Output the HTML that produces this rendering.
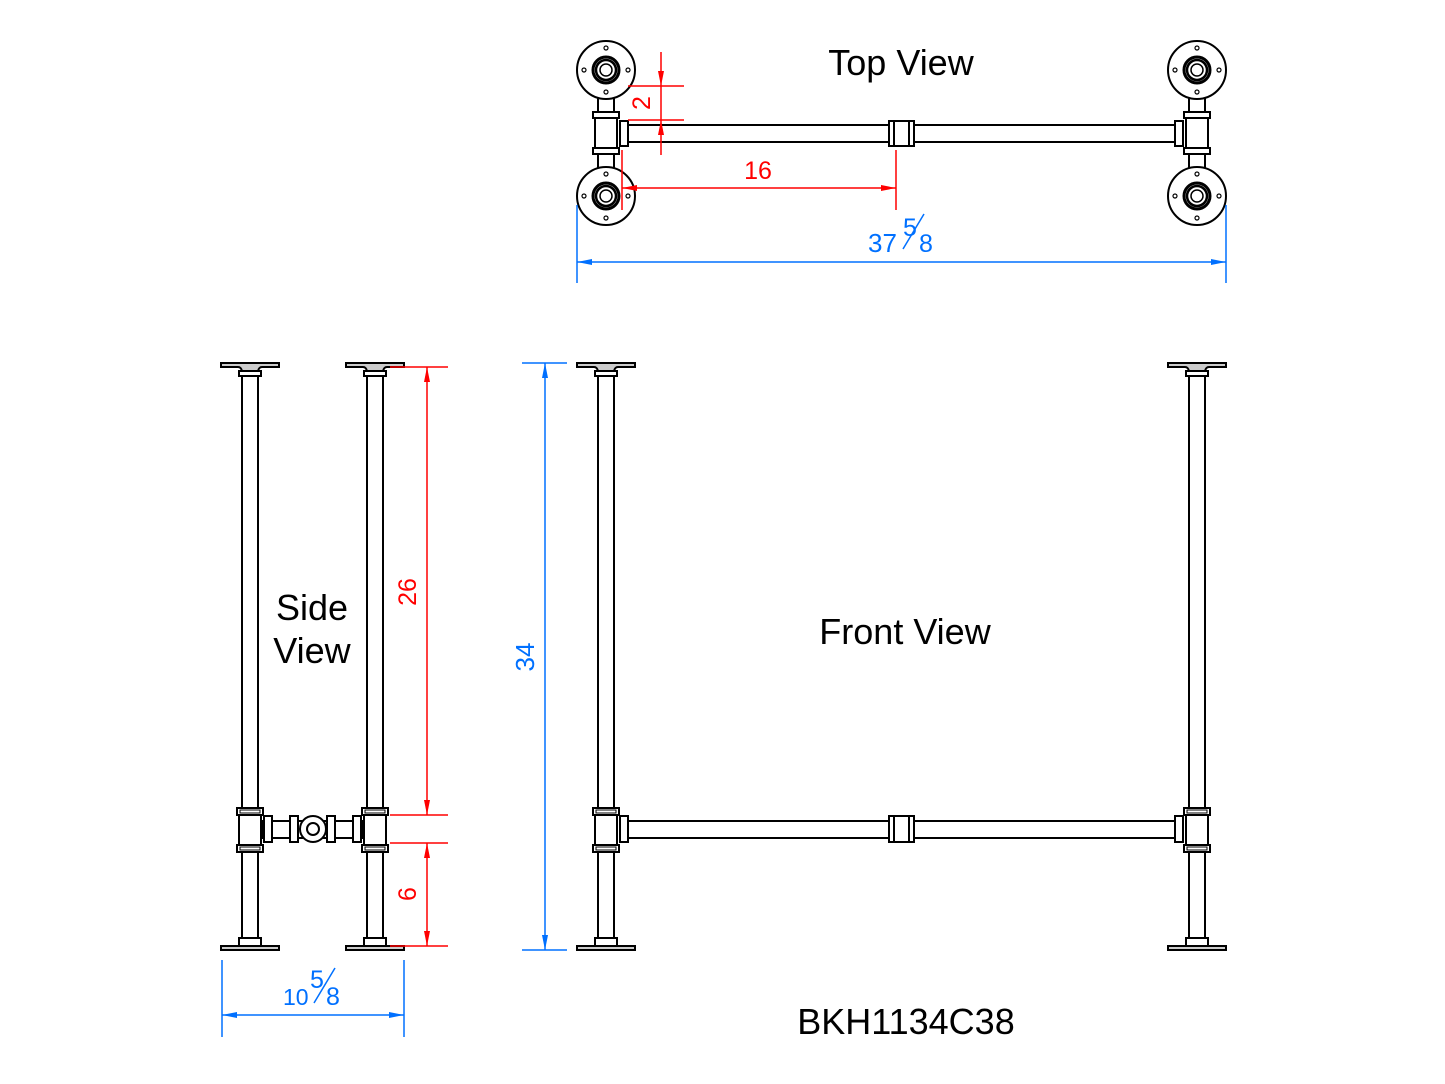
<!DOCTYPE html>
<html><head><meta charset="utf-8"><style>
html,body{margin:0;padding:0;background:#fff;}
svg{display:block;}
text{font-family:"Liberation Sans",sans-serif;}
</style></head><body>
<svg width="1445" height="1084" viewBox="0 0 1445 1084" xmlns="http://www.w3.org/2000/svg">
<defs>
<g id="leg" stroke="#000" stroke-width="2" fill="#fff">
  <path d="M-29,363 H29 V367 H12 Q9,367 8,371 H-8 Q-9,367 -12,367 H-29 Z" fill="#ccc"/>
  <rect x="-8" y="371" width="16" height="437"/>
  <rect x="-11" y="371" width="22" height="5"/>
  <rect x="-11" y="815" width="22" height="30"/>
  <rect x="-13" y="808" width="26" height="7"/>
  <rect x="-10" y="810" width="20" height="3" fill="none" stroke-width="1"/>
  <rect x="-13" y="845" width="26" height="7"/>
  <rect x="-10" y="847" width="20" height="3" fill="none" stroke-width="1"/>
  <rect x="-8" y="852" width="16" height="88"/>
  <path d="M-29,950 H29 V946 H12 Q9,946 8,940 H-8 Q-9,946 -12,946 H-29 Z" fill="#ccc"/>
  <rect x="-11" y="938" width="22" height="8"/>
</g>
<g id="flange" stroke="#000" fill="#fff">
  <circle r="29" stroke-width="2"/>
  <circle r="13" stroke-width="3"/>
  <circle r="10" stroke-width="2.5"/>
  <circle r="6" stroke-width="1.5"/>
  <circle cx="0" cy="-22" r="2" stroke-width="1.2"/>
  <circle cx="0" cy="22" r="2" stroke-width="1.2"/>
  <circle cx="-22" cy="0" r="2" stroke-width="1.2"/>
  <circle cx="22" cy="0" r="2" stroke-width="1.2"/>
</g>
<g id="topleg" stroke="#000" stroke-width="2" fill="#fff">
  <rect x="-8" y="86" width="16" height="94"/>
  <rect x="-11" y="112" width="22" height="42"/>
  <rect x="-13" y="112" width="26" height="6"/>
  <rect x="-13" y="148" width="26" height="6"/>
  <rect x="-11" y="86" width="22" height="10"/>
  <rect x="-11" y="170" width="22" height="10"/>
</g>
</defs>

<!-- Top view -->
<g stroke="#000" stroke-width="2" fill="#fff">
  <rect x="622" y="125" width="558" height="17"/>
  <rect x="889" y="121" width="25" height="25"/>
  <line x1="894" y1="121" x2="894" y2="146"/><line x1="909" y1="121" x2="909" y2="146"/>
  <rect x="620" y="121" width="8" height="25"/>
  <rect x="1175" y="121" width="8" height="25"/>
</g>
<use href="#topleg" transform="translate(606,0)"/>
<use href="#topleg" transform="translate(1197,0)"/>
<use href="#flange" x="606" y="70"/>
<use href="#flange" x="606" y="196"/>
<use href="#flange" x="1197" y="70"/>
<use href="#flange" x="1197" y="196"/>

<!-- Side view -->
<use href="#leg" transform="translate(250,0)"/>
<use href="#leg" transform="translate(375,0)"/>
<g stroke="#000" stroke-width="2" fill="#fff">
  <rect x="262" y="821" width="101" height="17"/>
  <rect x="264" y="816" width="8" height="26"/>
  <rect x="353" y="816" width="8" height="26"/>
  <rect x="290" y="816" width="8" height="26"/>
  <rect x="327" y="816" width="8" height="26"/>
  <circle cx="313" cy="829" r="13"/>
  <circle cx="313" cy="829" r="6"/>
</g>

<!-- Front view -->
<use href="#leg" transform="translate(606,0)"/>
<use href="#leg" transform="translate(1197,0)"/>
<g stroke="#000" stroke-width="2" fill="#fff">
  <rect x="628" y="821" width="547" height="17"/>
  <rect x="620" y="816" width="8" height="26"/>
  <rect x="1175" y="816" width="8" height="26"/>
  <rect x="889" y="816" width="25" height="26"/>
  <line x1="894" y1="816" x2="894" y2="842"/><line x1="909" y1="816" x2="909" y2="842"/>
</g>

<!-- Red dims -->
<g stroke="#f00" stroke-width="1.5" fill="none">
  <line x1="661" y1="52" x2="661" y2="155"/>
  <line x1="628" y1="86" x2="684" y2="86"/>
  <line x1="628" y1="120" x2="684" y2="120"/>
  <line x1="622" y1="150" x2="622" y2="210"/>
  <line x1="896" y1="150" x2="896" y2="210"/>
  <line x1="622" y1="188" x2="896" y2="188"/>
  <line x1="390" y1="367" x2="448" y2="367"/>
  <line x1="390" y1="815" x2="448" y2="815"/>
  <line x1="390" y1="843" x2="448" y2="843"/>
  <line x1="390" y1="946" x2="448" y2="946"/>
  <line x1="427" y1="367" x2="427" y2="815"/>
  <line x1="427" y1="843" x2="427" y2="946"/>
</g>
<g fill="#f00">
  <path d="M661,86 l-3,-15 h6z"/><path d="M661,120 l-3,15 h6z"/>
  <path d="M622,188 l15,-3 v6z"/><path d="M896,188 l-15,-3 v6z"/>
  <path d="M427,367 l-3,15 h6z"/><path d="M427,815 l-3,-15 h6z"/>
  <path d="M427,843 l-3,15 h6z"/><path d="M427,946 l-3,-15 h6z"/>
</g>
<g fill="#f00" font-size="25">
  <text x="758" y="179" text-anchor="middle">16</text>
  <text transform="translate(650,103) rotate(-90)" text-anchor="middle">2</text>
  <text transform="translate(416,592) rotate(-90)" text-anchor="middle">26</text>
  <text transform="translate(416,894) rotate(-90)" text-anchor="middle">6</text>
</g>

<!-- Blue dims -->
<g stroke="#0070ff" stroke-width="1.5" fill="none">
  <line x1="577" y1="205" x2="577" y2="283"/>
  <line x1="1226" y1="205" x2="1226" y2="283"/>
  <line x1="577" y1="262" x2="1226" y2="262"/>
  <line x1="522" y1="363" x2="567" y2="363"/>
  <line x1="522" y1="950" x2="567" y2="950"/>
  <line x1="545" y1="363" x2="545" y2="950"/>
  <line x1="222" y1="960" x2="222" y2="1037"/>
  <line x1="404" y1="960" x2="404" y2="1037"/>
  <line x1="222" y1="1015" x2="404" y2="1015"/>
  <line x1="903" y1="249" x2="924" y2="214"/>
  <line x1="314" y1="1003" x2="335" y2="968"/>
</g>
<path fill="#0070ff" stroke="none" d="M577,262 l15,-3 v6z"/>
<path fill="#0070ff" stroke="none" d="M1226,262 l-15,-3 v6z"/>
<path fill="#0070ff" stroke="none" d="M545,363 l-3,15 h6z"/>
<path fill="#0070ff" stroke="none" d="M545,950 l-3,-15 h6z"/>
<path fill="#0070ff" stroke="none" d="M222,1015 l15,-3 v6z"/>
<path fill="#0070ff" stroke="none" d="M404,1015 l-15,-3 v6z"/>
<g fill="#0070ff" font-size="26">
  <text x="868" y="252">37</text>
  <text x="903" y="236" font-size="25">5</text>
  <text x="919" y="252" font-size="25">8</text>
  <text transform="translate(534,657) rotate(-90)" text-anchor="middle">34</text>
  <text x="283" y="1005" font-size="23">10</text>
  <text x="310" y="988" font-size="25">5</text>
  <text x="326" y="1005" font-size="25">8</text>
</g>

<!-- Labels -->
<g fill="#000" font-size="36" text-anchor="middle">
  <text x="901" y="75">Top View</text>
  <text x="312" y="620">Side</text>
  <text x="312" y="663">View</text>
  <text x="905" y="644">Front View</text>
  <text x="906" y="1034">BKH1134C38</text>
</g>
</svg>
</body></html>
